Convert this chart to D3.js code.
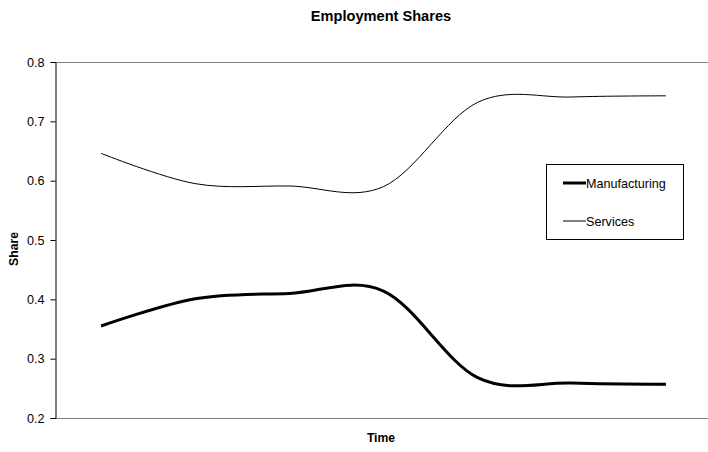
<!DOCTYPE html>
<html>
<head>
<meta charset="utf-8">
<script src="https://cdn.jsdelivr.net/npm/d3@7"></script>
<style>
  html, body { margin: 0; padding: 0; background: #fff; }
  svg { display: block; font-family: Arial, "Liberation Sans", sans-serif; }
</style>
</head>
<body>
<svg id="chart" width="708" height="452"></svg>
<script>
const periods = [1, 2, 3, 4, 5, 6, 7];
const manufacturing = [0.355, 0.401, 0.410, 0.414, 0.268, 0.259, 0.257];
const services = [0.646, 0.595, 0.591, 0.590, 0.732, 0.741, 0.743];
const yTicks = [0.2, 0.3, 0.4, 0.5, 0.6, 0.7, 0.8];
const seriesNames = ["Manufacturing", "Services"];

(function () {
const svg = d3.select("#chart");
const pLeft = 55, pRight = 713, pTop = 62, pBottom = 418;

const x = d3.scaleBand().domain(periods).range([pLeft - 1, pRight]);
const y = d3.scaleLinear().domain([0.2, 0.8]).range([pBottom, pTop]);
const xc = d => x(d) + x.bandwidth() / 2;

svg.append("rect").attr("width", 708).attr("height", 452).attr("fill", "#fff");

// plot border (top and bottom)
svg.append("line").attr("x1", pLeft).attr("x2", 708).attr("y1", pTop + 0.5).attr("y2", pTop + 0.5)
  .attr("stroke", "#808080").attr("stroke-width", 1);
svg.append("line").attr("x1", pLeft).attr("x2", 708).attr("y1", pBottom + 0.5).attr("y2", pBottom + 0.5)
  .attr("stroke", "#808080").attr("stroke-width", 1);

// y axis
const yAxis = d3.axisLeft(y).tickValues(yTicks).tickFormat(d3.format(".1f")).tickSize(5).tickPadding(6);
const ya = svg.append("g").attr("transform", `translate(${pLeft + 0.5},0)`).call(yAxis);
ya.select(".domain").attr("stroke", "#000");
ya.selectAll(".tick line").attr("stroke", "#000");
ya.selectAll(".tick text").attr("font-size", "12.6px").attr("font-family", "Arial, 'Liberation Sans', sans-serif").attr("fill", "#000");

// lines
const line = vals => d3.line()
  .x((d, i) => xc(periods[i]))
  .y(d => y(d))
  .curve(d3.curveCardinal.tension(0))(vals);

svg.append("path").attr("d", line(services)).attr("fill", "none")
  .attr("stroke", "#000").attr("stroke-width", 1);
svg.append("path").attr("d", line(manufacturing)).attr("fill", "none")
  .attr("stroke", "#000").attr("stroke-width", 3);

// title and axis labels
svg.append("text").attr("x", 381).attr("y", 21).attr("text-anchor", "middle")
  .attr("font-size", "14.6px").attr("font-weight", "bold").text("Employment Shares");
svg.append("text").attr("x", 381).attr("y", 442).attr("text-anchor", "middle")
  .attr("font-size", "12.2px").attr("font-weight", "bold").text("Time");
svg.append("text").attr("transform", "translate(18,249) rotate(-90)").attr("text-anchor", "middle")
  .attr("font-size", "12.2px").attr("font-weight", "bold").text("Share");

// legend
const lg = svg.append("g");
lg.append("rect").attr("x", 546.5).attr("y", 164.5).attr("width", 137).attr("height", 75)
  .attr("fill", "#fff").attr("stroke", "#000").attr("stroke-width", 1);
const legendY = [183, 221];
const widths = [3, 1];
seriesNames.forEach((name, i) => {
  lg.append("line").attr("x1", 563).attr("x2", 586).attr("y1", legendY[i]).attr("y2", legendY[i])
    .attr("stroke", "#000").attr("stroke-width", widths[i]);
  lg.append("text").attr("x", 586).attr("y", legendY[i] + 4.5).attr("font-size", "12.6px").text(name);
});
})();
</script>
</body>
</html>
